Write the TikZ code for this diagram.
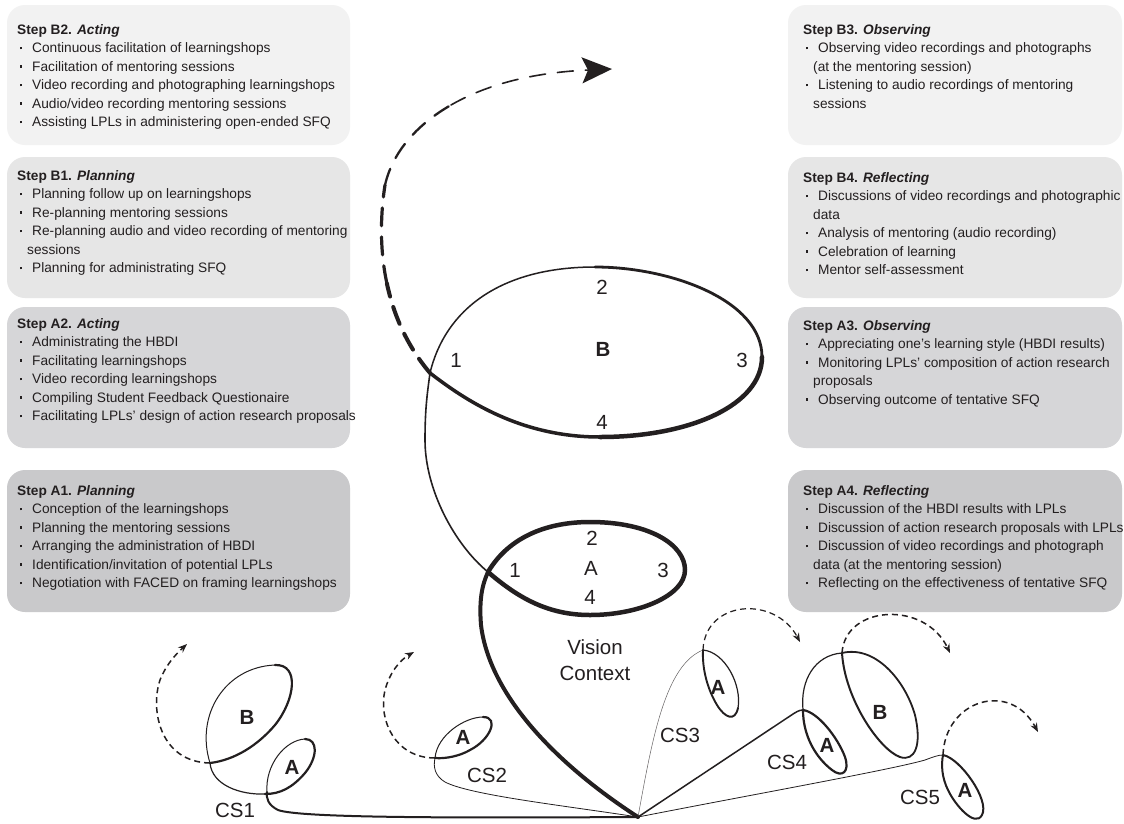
\documentclass[tikz,border=0pt]{standalone}
\usepackage{fontspec}
\setmainfont{Liberation Sans}
\usetikzlibrary{arrows.meta}
\definecolor{ink}{HTML}{231F20}
\definecolor{paleI}{HTML}{F2F2F2}
\definecolor{paleII}{HTML}{E6E6E6}
\definecolor{paleIII}{HTML}{D6D6D8}
\definecolor{paleIV}{HTML}{C9C9CB}
\newcommand{\itm}{\hspace*{2.5pt}\makebox[12.5pt][l]{\raisebox{3.2pt}{\rule{2.6pt}{2.6pt}}}}
\newcommand{\wrapin}{\hspace*{10pt}}
\tikzset{card/.style={rounded corners=18pt},
cardtext/.style={anchor=north west,inner sep=0pt,align=left,text=ink,font=\fontsize{13.7}{18.5}\selectfont},
looplab/.style={inner sep=0pt,text=ink,font=\fontsize{20.5}{26}\selectfont},
boldlab/.style={looplab,font=\fontsize{20.5}{26}\selectfont\bfseries},
spiral/.style={draw=ink,line cap=round,line join=round},
onward/.style={draw=ink,line width=1.5pt,dash pattern=on 6pt off 4pt,-{Stealth[length=9pt,width=7pt]}}}
\begin{document}
\begin{tikzpicture}[x=1pt,y=-1pt]
\useasboundingbox (0,0) rectangle (1124,823);
\fill[white] (0,0) rectangle (1124,823);
\foreach \x/\w in {7/343,788/334}{
\fill[card,paleI] (\x,5) rectangle ++(\w,140);
\fill[card,paleII] (\x,157) rectangle ++(\w,141);
\fill[card,paleIII] (\x,307) rectangle ++(\w,141);
\fill[card,paleIV] (\x,470) rectangle ++(\w,142);}
\node[cardtext] (stepBtwo) at (17,24) {\textbf{Step B2. \textit{Acting}}\\
\itm Continuous facilitation of learningshops\\
\itm Facilitation of mentoring sessions\\
\itm Video recording and photographing learningshops\\
\itm Audio/video recording mentoring sessions\\
\itm Assisting LPLs in administering open-ended SFQ};
\node[cardtext] (stepBone) at (17,170) {\textbf{Step B1. \textit{Planning}}\\
\itm Planning follow up on learningshops\\
\itm Re-planning mentoring sessions\\
\itm Re-planning audio and video recording of mentoring\\
\wrapin sessions\\
\itm Planning for administrating SFQ};
\node[cardtext] (stepAtwo) at (17,318) {\textbf{Step A2. \textit{Acting}}\\
\itm Administrating the HBDI\\
\itm Facilitating learningshops\\
\itm Video recording learningshops\\
\itm Compiling Student Feedback Questionaire\\
\itm Facilitating LPLs’ design of action research proposals};
\node[cardtext] (stepAone) at (17,485) {\textbf{Step A1. \textit{Planning}}\\
\itm Conception of the learningshops\\
\itm Planning the mentoring sessions\\
\itm Arranging the administration of HBDI\\
\itm Identification/invitation of potential LPLs\\
\itm Negotiation with FACED on framing learningshops};
\node[cardtext] (stepBthree) at (803,24) {\textbf{Step B3. \textit{Observing}}\\
\itm Observing video recordings and photographs\\
\wrapin (at the mentoring session)\\
\itm Listening to audio recordings of mentoring\\
\wrapin sessions};
\node[cardtext] (stepBfour) at (803,172) {\textbf{Step B4. \textit{Reflecting}}\\
\itm Discussions of video recordings and photographic\\
\wrapin data\\
\itm Analysis of mentoring (audio recording)\\
\itm Celebration of learning\\
\itm Mentor self-assessment};
\node[cardtext] (stepAthree) at (803,320) {\textbf{Step A3. \textit{Observing}}\\
\itm Appreciating one’s learning style (HBDI results)\\
\itm Monitoring LPLs’ composition of action research\\
\wrapin proposals\\
\itm Observing outcome of tentative SFQ};
\node[cardtext] (stepAfour) at (803,485) {\textbf{Step A4. \textit{Reflecting}}\\
\itm Discussion of the HBDI results with LPLs\\
\itm Discussion of action research proposals with LPLs\\
\itm Discussion of video recordings and photograph\\
\wrapin data (at the mentoring session)\\
\itm Reflecting on the effectiveness of tentative SFQ};
% crossing points of the loops
\coordinate (hub) at (638,817);
\coordinate (pA) at (488,572);
\coordinate (pB) at (430,373);
\coordinate (c1a) at (267,792);
\coordinate (c1b) at (210,763);
\coordinate (c2a) at (435,758);
\coordinate (c3a) at (703,650);
\coordinate (c4a) at (803,710);
\coordinate (c4b) at (842,653);
\coordinate (c5a) at (943,755);
% main spiral
\draw[spiral,line width=4pt] (hub) .. controls (565,770) and (490,700) .. (481,625) .. controls (479,600) and (482,585) .. (pA);
\draw[spiral,line width=4.5pt] (pA) .. controls (510,535) and (550,522) .. (590,522) .. controls (650,522) and (685,545) .. (685,570) .. controls (685,595) and (640,615) .. (590,615) .. controls (545,615) and (515,595) .. (pA);
\draw[spiral,line width=1.6pt] (pA) .. controls (455,545) and (425,490) .. (425,440) .. controls (425,410) and (427,395) .. (pB);
\draw[spiral,line width=1.5pt] (pB) .. controls (445,310) and (500,267) .. (595,267);
\draw[spiral,line width=2.8pt] (595,267) .. controls (670,267) and (762,300) .. (762,357);
\draw[spiral,line width=4.5pt] (762,357) .. controls (762,405) and (690,437) .. (600,437);
\draw[spiral,line width=3.5pt] (600,437) .. controls (520,437) and (465,400) .. (pB);
\draw[spiral,line width=4pt,dash pattern=on 18pt off 11pt] (pB) .. controls (407.5,346.5) and (393.75,315.75) .. (386.9,283.5);
\draw[spiral,line width=3.2pt,dash pattern=on 18pt off 11pt] (386.9,283.5) .. controls (380,251.25) and (380,217.5) .. (385,185);
\draw[spiral,line width=2.3pt,dash pattern=on 17pt off 12pt] (385,185) .. controls (392.5,152.5) and (416.25,125) .. (451,105);
\draw[spiral,line width=1.6pt,dash pattern=on 16pt off 12pt,-{Stealth[length=30pt,width=26pt,inset=6pt]}] (451,105) .. controls (485.75,85) and (531.5,72.5) .. (612,69);
\node[looplab] (bTwo) at (602,287) {2};
\node[boldlab] (bName) at (603,349) {B};
\node[looplab] (bOne) at (456,360) {1};
\node[looplab] (bThree) at (742,360) {3};
\node[looplab] (bFour) at (602,422) {4};
\node[looplab] (aTwo) at (592,538) {2};
\node[looplab] (aName) at (591,568) {A};
\node[looplab] (aOne) at (515,570) {1};
\node[looplab] (aThree) at (663,570) {3};
\node[looplab] (aFour) at (590,597) {4};
\node[looplab,align=center] (vision) at (595,660) {Vision\\Context};
% CS1
\draw[spiral,line width=2pt] (hub) .. controls (450,818) and (300,818) .. (278,810) .. controls (268,805) and (266,798) .. (c1a);
\draw[spiral,line width=1pt] (c1a) .. controls (265,765) and (285,740) .. (305,739);
\draw[spiral,line width=2.2pt] (305,739) .. controls (318,739) and (318,757) .. (305,773) .. controls (292,788) and (280,794) .. (265,794);
\draw[spiral,line width=1.2pt] (265,794) .. controls (240,795) and (212,785) .. (c1b);
\draw[spiral,line width=1pt] (c1b) .. controls (195,715) and (225,667) .. (275,665);
\draw[spiral,line width=2.2pt] (275,665) .. controls (300,664) and (295,700) .. (275,725) .. controls (258,745) and (235,760) .. (c1b);
\draw[onward] (c1b) .. controls (160,762) and (150,710) .. (160,680) .. controls (166,665) and (175,655) .. (187,644);
\node[boldlab] (csOneB) at (247,717) {B};
\node[boldlab] (csOneA) at (292,767) {A};
\node[looplab] (csOne) at (235,810) {CS1};
% CS2
\draw[spiral,line width=.8pt] (hub) .. controls (560,805) and (470,795) .. (445,782) .. controls (435,776) and (433,767) .. (c2a);
\draw[spiral,line width=1pt] (c2a) .. controls (437,735) and (465,717) .. (483,717);
\draw[spiral,line width=2.2pt] (483,717) .. controls (500,717) and (490,740) .. (470,750) .. controls (460,756) and (445,759) .. (c2a);
\draw[onward] (c2a) .. controls (395,758) and (378,720) .. (385,690) .. controls (390,672) and (400,660) .. (414,652);
\node[boldlab] (csTwoA) at (463,737) {A};
\node[looplab] (csTwo) at (487,775) {CS2};
% CS3
\draw[spiral,line width=.5pt,draw=ink!70] (hub) .. controls (652,740) and (665,665) .. (c3a);
\draw[spiral,line width=1.2pt] (c3a) .. controls (725,652) and (742,685) .. (738,708);
\draw[spiral,line width=1.9pt] (738,708) .. controls (735,722) and (725,718) .. (717,705) .. controls (708,690) and (702,670) .. (c3a);
\draw[onward,line width=1.2pt] (c3a) .. controls (705,600) and (775,595) .. (800,642);
\node[boldlab] (csThreeA) at (718,687) {A};
\node[looplab] (csThree) at (680,735) {CS3};
% CS4
\draw[spiral,line width=1.5pt] (hub) -- (790,716) .. controls (796,712) and (799,710) .. (c4a);
\draw[spiral,line width=2.2pt] (c4a) .. controls (818,712) and (838,738) .. (845,757) .. controls (850,772) and (842,778) .. (832,770) .. controls (815,757) and (803,735) .. (c4a);
\draw[spiral,line width=1.2pt] (c4a) .. controls (800,680) and (815,655) .. (c4b);
\draw[spiral,line width=1.8pt] (c4b) .. controls (875,645) and (905,680) .. (915,715) .. controls (922,745) and (915,762) .. (900,757);
\draw[spiral,line width=2pt] (900,757) .. controls (880,750) and (845,700) .. (c4b);
\draw[onward] (c4b) .. controls (845,605) and (925,600) .. (950,653);
\node[boldlab] (csFourA) at (827,745) {A};
\node[boldlab] (csFourB) at (880,712) {B};
\node[looplab] (csFour) at (787,762) {CS4};
% CS5
\draw[spiral,line width=.8pt] (hub) .. controls (750,795) and (890,770) .. (925,760) .. controls (933,757) and (938,755) .. (c5a);
\draw[spiral,line width=2pt] (c5a) .. controls (960,758) and (990,800) .. (982,815) .. controls (975,828) and (955,805) .. (948,790) .. controls (942,778) and (941,765) .. (c5a);
\draw[onward] (c5a) .. controls (945,700) and (1010,680) .. (1038,732);
\node[boldlab] (csFiveA) at (965,790) {A};
\node[looplab] (csFive) at (920,797) {CS5};
\end{tikzpicture}
\end{document}
